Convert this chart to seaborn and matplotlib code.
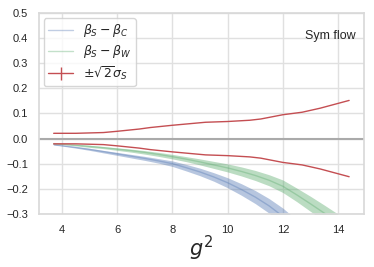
import numpy as np
import pandas as pd
import seaborn as sns
import matplotlib.pyplot as plt

# beta_S - beta_C
g2_c = [3.7, 4.0, 4.5, 5.0, 5.5, 6.0, 6.5, 7.0, 7.5, 8.0, 8.5, 9.0, 9.5, 10.0,
        10.5, 11.0, 11.5, 12.0, 12.5]
diff_c = [-0.024, -0.028, -0.035, -0.043, -0.052, -0.061, -0.070, -0.079, -0.089,
          -0.100, -0.116, -0.133, -0.153, -0.176, -0.203, -0.233, -0.268, -0.310, -0.360]
err_c = [0.002, 0.002, 0.003, 0.004, 0.005, 0.006, 0.007, 0.008, 0.009, 0.011,
         0.013, 0.015, 0.017, 0.020, 0.023, 0.026, 0.029, 0.033, 0.036]

# beta_S - beta_W
g2_w = [3.7, 4.0, 4.5, 5.0, 5.5, 6.0, 6.5, 7.0, 7.5, 8.0, 8.5, 9.0, 9.5, 10.0,
        10.5, 11.0, 11.5, 12.0, 12.5, 13.0, 13.5, 14.0]
diff_w = [-0.020, -0.022, -0.026, -0.031, -0.036, -0.042, -0.048, -0.055, -0.063,
          -0.072, -0.082, -0.093, -0.105, -0.117, -0.131, -0.147, -0.166, -0.190,
          -0.224, -0.260, -0.297, -0.335]
err_w = [0.002, 0.002, 0.003, 0.004, 0.004, 0.005, 0.006, 0.007, 0.008, 0.009,
         0.010, 0.012, 0.014, 0.016, 0.018, 0.020, 0.022, 0.025, 0.027, 0.030,
         0.032, 0.034]

# sqrt(2) sigma_S
g2_s = [3.7, 4.5, 5.5, 6.0, 6.8, 7.2, 8.0, 9.2, 10.0, 10.8, 11.2, 12.0, 12.7, 13.35, 14.4]
sig_s = [0.021, 0.021, 0.024, 0.029, 0.038, 0.044, 0.053, 0.065, 0.068, 0.073,
         0.078, 0.095, 0.105, 0.121, 0.152]

sns.set_theme(style="whitegrid", rc={"grid.color": ".88", "axes.edgecolor": ".85"})
plt.rcParams["font.family"] = ["Liberation Sans", "DejaVu Sans"]

blue, green, red = "#4C72B0", "#55A868", "#C44E52"

fig = plt.figure(figsize=(3.74, 2.67), dpi=100)
ax = fig.add_axes([0.104, 0.199, 0.869, 0.752])

dc = pd.DataFrame({"g2": g2_c, "d": diff_c, "e": err_c})
dw = pd.DataFrame({"g2": g2_w, "d": diff_w, "e": err_w})

ax.plot(dc["g2"], dc["d"], color=blue, lw=1, alpha=0.35, label=r"$\beta_S-\beta_C$")
ax.fill_between(dc["g2"], dc["d"] - dc["e"], dc["d"] + dc["e"], color=blue, alpha=0.4, lw=0)
ax.plot(dw["g2"], dw["d"], color=green, lw=1, alpha=0.35, label=r"$\beta_S-\beta_W$")
ax.fill_between(dw["g2"], dw["d"] - dw["e"], dw["d"] + dw["e"], color=green, alpha=0.4, lw=0)

s = np.array(sig_s)
sns.lineplot(x=g2_s, y=s, color=red, lw=1, ax=ax)
sns.lineplot(x=g2_s, y=-s, color=red, lw=1, ax=ax)
ax.errorbar([np.nan], [np.nan], yerr=[np.nan], color=red, lw=1,
            label=r"$\pm\sqrt{2}\sigma_S$")

ax.axhline(0, color="#aaaaaa", lw=1.5, zorder=1)

ax.set_xlim(3.165, 14.935)
ax.set_ylim(-0.3, 0.5)
ax.set_xticks([4, 6, 8, 10, 12, 14])
ax.set_yticks([-0.3, -0.2, -0.1, 0.0, 0.1, 0.2, 0.3, 0.4, 0.5])
ax.tick_params(labelsize=8, pad=2, colors=".15")
ax.set_xlabel(r"$g^2$", fontsize=15, labelpad=-1)
ax.set_ylabel("")
ax.text(0.975, 0.885, "Sym flow", transform=ax.transAxes, ha="right", va="center", fontsize=9)
ax.legend(loc="upper left", fontsize=9, frameon=True, labelspacing=0.3,
          borderaxespad=0.4, handlelength=2.0, borderpad=0.35)

fig.savefig("out.png", dpi=100)
